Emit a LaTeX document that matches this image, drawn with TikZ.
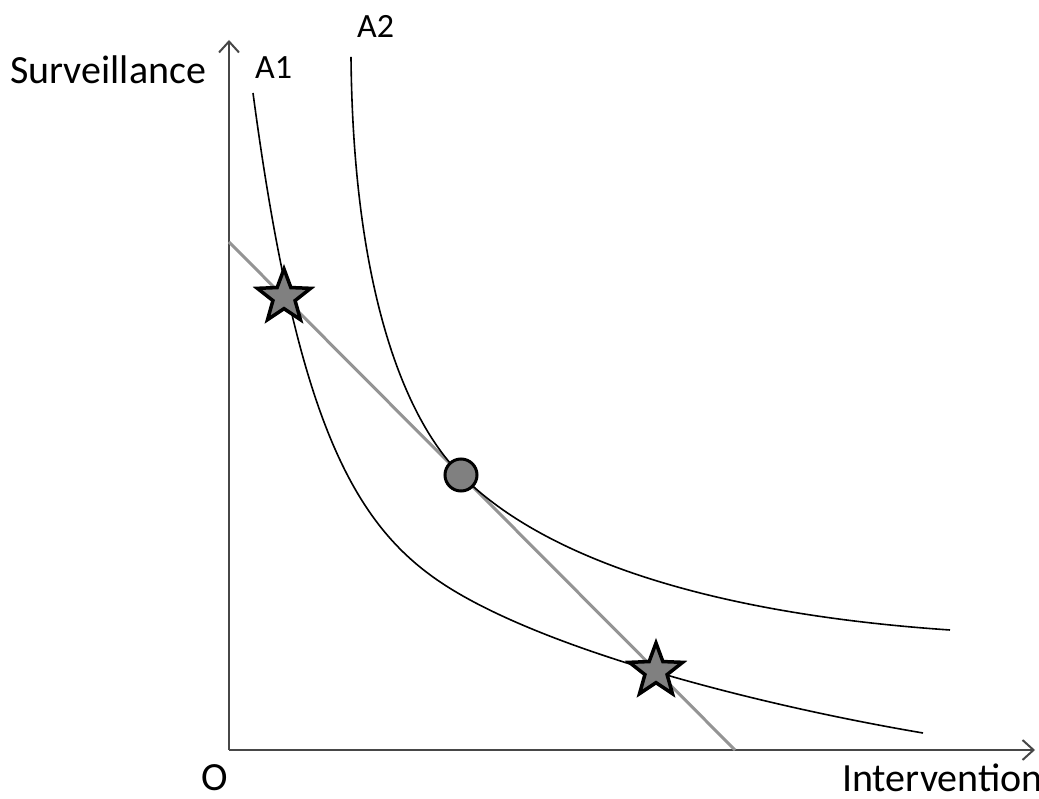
\documentclass[tikz,border=0pt]{standalone}
\usepackage{fontspec}
\setmainfont{Carlito}
\usetikzlibrary{arrows.meta,shapes.geometric}

\begin{document}
\begin{tikzpicture}[x=1pt,y=1pt,>={Straight Barb[length=11pt,width=20pt]},
  axis/.style={line width=2pt,draw=black!72},
  curve/.style={line width=1.6pt,draw=black,line join=round},
  budget/.style={line width=3pt,draw=black!42},
  axlbl/.style={font=\fontsize{40}{46}\selectfont,inner sep=0pt,anchor=base west},
  crvlbl/.style={font=\fontsize{34}{40}\selectfont,inner sep=0pt,anchor=base west},
  optstar/.style={star,star points=5,star point ratio=2.4,minimum size=56pt,
    inner sep=0pt,fill=black!50,draw=black,line width=3.5pt},
  optdot/.style={circle,minimum size=32pt,inner sep=0pt,fill=black!50,
    draw=black,line width=3pt}]
\useasboundingbox (0,0) rectangle (1039,798);
% ---------- axes ----------
\coordinate (O) at (229,48);
\coordinate (ytop) at (229,758);
\coordinate (xend) at (1035,48);
\draw[axis,->] (O) -- (ytop);
\draw[axis,->] (O) -- (xend);
\node[axlbl] (ylab) at (10,714) {Surveillance};
\node[axlbl] (xlab) at (842,6) {Intervention};
\node[axlbl] (olab) at (201,7) {O};
% ---------- budget line ----------
\coordinate (b1) at (229,556);
\coordinate (b2) at (735,48);
\draw[budget] (b1) -- (b2);
% ---------- indifference curves ----------
\coordinate (a1top) at (253,705);
\coordinate (a1mid) at (433,221);
\coordinate (a1end) at (923,65);
\coordinate (a2top) at (351,741);
\coordinate (a2tan) at (461,323);
\coordinate (a2end) at (950,168);
\draw[curve] (a1top) .. controls (294.8,391.2) and (348.7,281.6) .. (a1mid)
  .. controls (526.9,153.3) and (744.2,95.4) .. (a1end);
\draw[curve] (a2top) .. controls (353,520) and (400,384) .. (a2tan)
  .. controls (541,243) and (700,185) .. (a2end);
\node[crvlbl] (a1) at (255,719) {A1};
\node[crvlbl] (a2) at (357,760) {A2};
% ---------- points ----------
\node[optstar] (s1) at (284,501) {};
\node[optstar] (s2) at (656,127) {};
\node[optdot] (c) at (a2tan) {};
\end{tikzpicture}
\end{document}
